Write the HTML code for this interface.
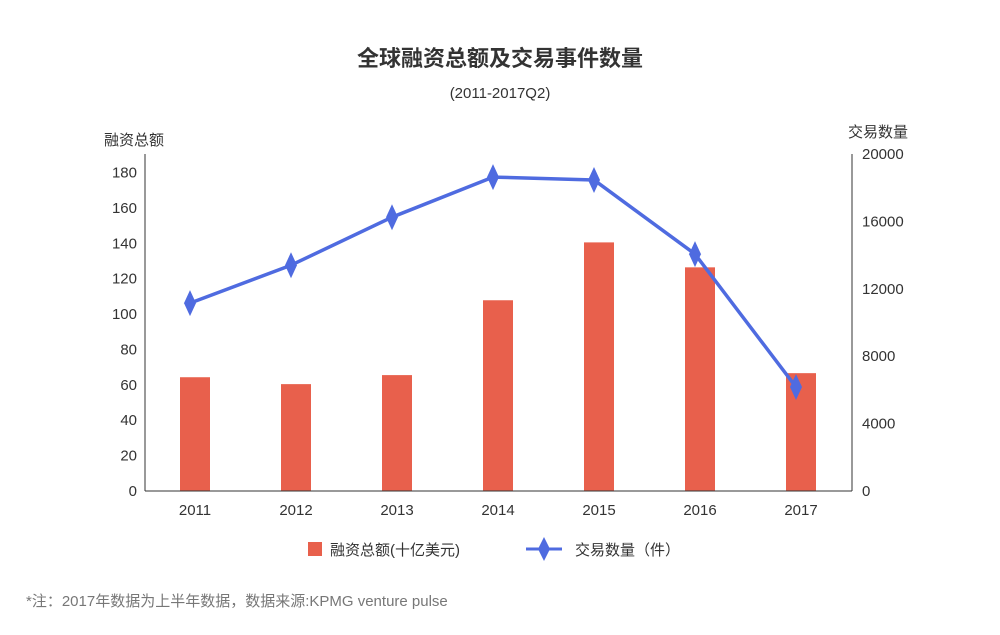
<!DOCTYPE html>
<html><head><meta charset="utf-8"><style>
body{margin:0;background:#fff;font-family:"Liberation Sans","Noto Sans CJK SC",sans-serif;}
svg text{font-family:"Liberation Sans","Noto Sans CJK SC",sans-serif;}
</style></head><body>
<svg id="c" width="1000" height="630" xmlns="http://www.w3.org/2000/svg">
<text x="500" y="66" text-anchor="middle" font-size="22" font-weight="bold" fill="#333">全球融资总额及交易事件数量</text>
<text x="500" y="98" text-anchor="middle" font-size="15" fill="#333">(2011-2017Q2)</text>
<text x="134" y="145" text-anchor="middle" font-size="15" fill="#333">融资总额</text>
<text x="878" y="137" text-anchor="middle" font-size="15" fill="#333">交易数量</text>
<g id="grid"></g>
<g id="bars"></g>
<g id="line"></g>
<line x1="145" y1="154" x2="145" y2="491" stroke="#333"/>
<line x1="852" y1="154" x2="852" y2="491" stroke="#333"/>
<line x1="145" y1="491" x2="852" y2="491" stroke="#333"/>
<g>
<rect x="308" y="542" width="14" height="14" fill="#e8604c"/>
<text x="330" y="555" font-size="15" fill="#333">融资总额(十亿美元)</text>
<line x1="526" y1="549" x2="562" y2="549" stroke="#4f6be0" stroke-width="3"/>
<polygon points="544,537 550,549 544,561 538,549" fill="#4f6be0"/>
<text x="575" y="555" font-size="15" fill="#333">交易数量（件）</text>
</g>
<text x="26" y="606" font-size="15" fill="#777">*注：2017年数据为上半年数据，数据来源:KPMG venture pulse</text>
</svg>
<script>
const categories=["2011","2012","2013","2014","2015","2016","2017"];
const fundingValues=[64.3,60.4,65.5,107.8,140.5,126.4,66.6];
const dealCounts=[11150,13400,16250,18630,18460,14060,6170];
const leftTicks=[0,20,40,60,80,100,120,140,160,180];
const rightTicks=[0,4000,8000,12000,16000,20000];
const NS="http://www.w3.org/2000/svg";
const y0=491;
function yL(v){return y0-v*(491-172.5)/180;}
function yR(v){return y0-v*(491-154)/20000;}
function xC(i){return 195+i*101;}
function mk(t,a,p){const e=document.createElementNS(NS,t);for(const k in a)e.setAttribute(k,a[k]);(p||document.getElementById('c')).appendChild(e);return e;}
const g=document.getElementById('grid');
leftTicks.forEach(v=>{const t=mk('text',{x:137,y:yL(v)+5,'text-anchor':'end','font-size':15,fill:'#333'},g);t.textContent=v;

});
rightTicks.forEach(v=>{const t=mk('text',{x:862,y:yR(v)+5,'font-size':15,fill:'#333'},g);t.textContent=v;

});
categories.forEach((c,i)=>{const t=mk('text',{x:xC(i),y:515,'text-anchor':'middle','font-size':15,fill:'#333'},g);t.textContent=c;

});
const b=document.getElementById('bars');
fundingValues.forEach((v,i)=>{const r=mk('rect',{x:xC(i)-15,y:yL(v),width:30,height:y0-yL(v),fill:'#e8604c'},b);

});
const l=document.getElementById('line');
const pts=dealCounts.map((v,i)=>(xC(i)-5)+','+yR(v)).join(' ');
const pl=mk('polyline',{points:pts,fill:'none',stroke:'#4f6be0','stroke-width':3.5,'stroke-linejoin':'round'},l);


dealCounts.forEach((v,i)=>{const x=xC(i)-5,y=yR(v);
const p=mk('polygon',{points:`${x},${y-13} ${x+6},${y} ${x},${y+13} ${x-6},${y}`,fill:'#4f6be0'},l);

});
</script>
</body></html>
